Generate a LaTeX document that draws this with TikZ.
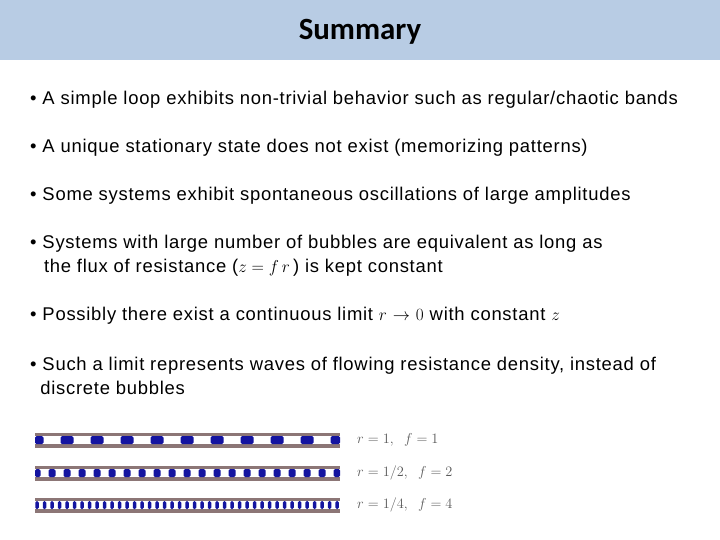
\documentclass[tikz,border=0pt]{standalone}
\usepackage{fontspec}
\setmainfont[LetterSpace=4]{Liberation Sans}
\newfontfamily\titlefont{Carlito}
\definecolor{hdr}{RGB}{184,204,228}
\definecolor{tubec}{RGB}{140,118,118}
\definecolor{bubc}{RGB}{20,20,160}
\begin{document}
\begin{tikzpicture}[x=1bp,y=-1bp,
  bullet/.style={anchor=west,inner sep=0pt,font=\fontsize{18.5}{24}\selectfont,align=left},
  tube/.style={fill=tubec},
  bub/.style={fill=bubc,rounded corners=1.5bp},
  lab/.style={anchor=west,inner sep=0pt,font=\fontsize{15.5}{18}\selectfont\color{gray!70!black}}]
\useasboundingbox (0,0) rectangle (720,540);
\fill[hdr] (0,0) rectangle (720,60);
\node[font=\titlefont\bfseries\fontsize{31}{36}\selectfont] (title) at (360,32) {Summary};
\node[bullet] (b1) at (30,100) {• A simple loop exhibits non-trivial behavior such as regular/chaotic bands};
\node[bullet] (b2) at (30,148) {• A unique stationary state does not exist (memorizing patterns)};
\node[bullet] (b3) at (30,196) {• Some systems exhibit spontaneous oscillations of large amplitudes};
\node[bullet] (b4) at (30,256) {• Systems with large number of bubbles are equivalent as long as\\\hspace*{0.75em}the flux of resistance ($z = f\,r$\,) is kept constant};
\node[bullet] (b5) at (30,316) {• Possibly there exist a continuous limit $r$ $\rightarrow$ $0$ with constant $z$};
\node[bullet] (b6) at (30,376) {• Such a limit represents waves of flowing resistance density, instead of\\\hspace*{0.55em}discrete bubbles};
\foreach \yc/\n/\w in {440/10/13, 473/20/7, 505/40/3.5}{
  \fill[tube] (35,\yc-7.5) rectangle (340,\yc-4);
  \fill[tube] (35,\yc+4) rectangle (340,\yc+7.5);
  \pgfmathsetmacro{\sp}{300/\n}
  \foreach \i in {0,...,\n}{
    \fill[bub] ({max(35,37+\i*\sp-\w/2)},\yc-4) rectangle ({min(340,37+\i*\sp+\w/2)},\yc+4);
  }
}
\node[lab] (l1) at (357,440) {$r = 1,\;\; f = 1$};
\node[lab] (l2) at (357,473) {$r = 1/2,\;\; f = 2$};
\node[lab] (l3) at (357,505) {$r = 1/4,\;\; f = 4$};
\end{tikzpicture}
\end{document}
